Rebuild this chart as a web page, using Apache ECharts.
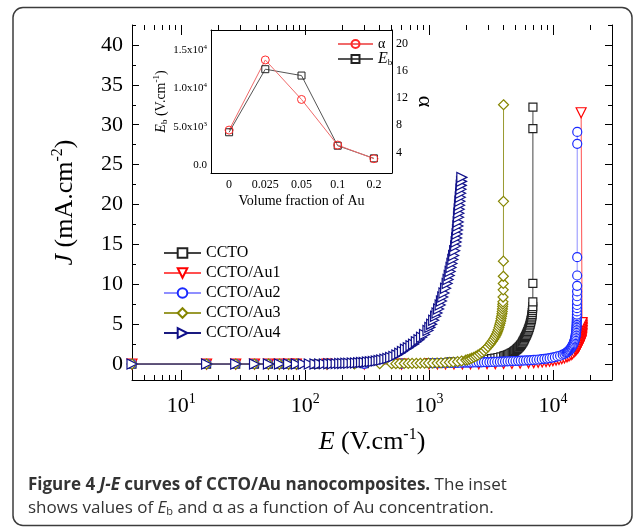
<!DOCTYPE html>
<html>
<head>
<meta charset="utf-8">
<script src="https://cdn.jsdelivr.net/npm/echarts@6/dist/echarts.min.js"></script>
<style>
html, body { margin: 0; padding: 0; background: #fff; }
#main { width: 633px; height: 528px; }
</style>
</head>
<body>
<div id="main"></div>
<script>
// J-E curves, [E (V/cm), J (mA/cm2)]
var ccto = [[4,0],[16,0],[27.5,0],[39,0],[50.5,0],[62,0],[73.5,0],[85,0],[120,0],[300,0.04],[600,0.09],[1000,0.16],[1500,0.26],
  [2000,0.35],[2200,0.4],[2400,0.45],[2600,0.5],[2800,0.55],[3000,0.6],[3200,0.67],[3400,0.74],[3600,0.82],[3800,0.9],[4000,1.0],
  [4100,1.05],[4200,1.1],[4300,1.16],[4400,1.22],[4500,1.29],[4600,1.36],[4700,1.44],[4800,1.52],[4880,1.6],[4950,1.68],[5030,1.76],
  [5100,1.85],[5180,1.94],[5250,2.03],[5330,2.12],[5400,2.22],[5480,2.33],[5550,2.45],[5620,2.6],[5700,2.75],[5760,2.87],[5820,3.0],
  [5890,3.15],[5950,3.3],[6010,3.45],[6070,3.6],[6130,3.75],[6200,3.9],[6260,4.07],[6320,4.25],[6380,4.42],[6440,4.6],[6500,4.8],
  [6550,5.0],[6600,5.2],[6650,5.4],[6690,5.6],[6730,5.8],[6760,6.0],[6790,6.2],[6815,6.45],[6840,6.7],[6855,6.95],[6870,7.2],
  [6885,7.8],[6890,10.1],[6895,29.5],[6900,32.2]];
var au1 = [[4,0],[16,0],[27.5,0],[39,0],[50.5,0],[62,0],[73.5,0],[85,0],[150,0],[300,0],[600,0],[1000,0.01],[1170,0.01],[1360,0.015],
  [1590,0.02],[1860,0.02],[2160,0.03],[2520,0.03],[2940,0.04],[3430,0.05],[4000,0.07],[4670,0.08],[5440,0.11],[6350,0.15],[7000,0.18],
  [7600,0.22],[8200,0.26],[8800,0.31],[9400,0.36],[10000,0.43],[10600,0.5],[11200,0.58],[11800,0.67],[12400,0.77],[13000,0.9],
  [13500,1.02],[14000,1.16],[14400,1.3],[14800,1.48],[15200,1.68],[15400,1.79],[15600,1.9],[15800,2.0],[16000,2.1],[16150,2.22],
  [16300,2.35],[16450,2.5],[16600,2.65],[16750,2.8],[16900,2.95],[16980,3.12],[17050,3.3],[17100,3.47],[17150,3.65],[17180,3.82],
  [17200,4.0],[17230,4.2],[17250,4.4],[17250,4.6],[17250,4.8],[17230,5.0],[17200,5.2],[16900,31.5]];
var au2 = [[4,0],[16,0],[27.5,0],[39,0],[50.5,0],[62,0],[73.5,0],[85,0],[150,0.01],[300,0.03],[600,0.06],[1000,0.1],[1050,0.105],
  [1100,0.11],[1160,0.115],[1220,0.12],[1280,0.125],[1340,0.13],[1410,0.135],[1480,0.14],[1550,0.145],[1630,0.15],[1710,0.155],
  [1800,0.16],[1890,0.17],[1980,0.18],[2080,0.185],[2180,0.19],[2290,0.2],[2400,0.205],[2520,0.21],[2650,0.22],[2780,0.23],
  [2920,0.24],[3070,0.25],[3220,0.26],[3380,0.27],[3550,0.29],[3730,0.3],[3910,0.31],[4110,0.33],[4310,0.34],[4530,0.35],
  [4750,0.37],[4990,0.38],[5240,0.4],[5500,0.42],[5780,0.43],[6070,0.45],[6370,0.47],[6690,0.49],[7020,0.52],[7370,0.54],
  [7740,0.57],[8130,0.61],[8540,0.65],[8960,0.69],[9410,0.74],[9880,0.8],[10370,0.86],[10890,0.95],[11430,1.04],[12000,1.17],
  [12400,1.28],[12800,1.4],[13000,1.47],[13200,1.55],[13400,1.65],[13600,1.75],[13800,1.87],[14000,2.0],[14150,2.12],[14300,2.25],
  [14450,2.37],[14600,2.5],[14730,2.65],[14850,2.8],[14950,2.95],[15050,3.1],[15130,3.27],[15200,3.45],[15270,3.62],[15330,3.8],
  [15380,4.0],[15430,4.2],[15470,4.4],[15500,4.6],[15530,4.8],[15550,5.0],[15570,5.2],[15590,5.4],[15605,5.6],[15615,5.8],
  [15625,6.0],[15630,6.2],[15640,6.6],[15650,7.0],[15655,7.4],[15660,7.9],[15670,8.5],[15680,9.1],[15690,9.8],[15700,11.1],
  [15710,13.4],[15720,27.6],[15730,29.1]];
var au3 = [[4,0],[16,0],[27.5,0],[39,0],[50.5,0],[62,0],[73.5,0],[85,0],[150,0.01],[250,0.02],[400,0.04],[500,0.05],[540,0.05],
  [580,0.06],[630,0.07],[680,0.08],[730,0.08],[790,0.09],[850,0.1],[920,0.1],[990,0.11],[1070,0.12],[1160,0.13],[1250,0.15],
  [1350,0.17],[1460,0.2],[1570,0.25],[1700,0.3],[1830,0.38],[1980,0.5],[2050,0.56],[2130,0.63],[2210,0.73],[2300,0.85],[2390,0.98],
  [2480,1.12],[2580,1.29],[2680,1.47],[2780,1.68],[2890,1.93],[2990,2.18],[3100,2.45],[3170,2.67],[3250,2.9],[3320,3.12],[3400,3.35],
  [3460,3.57],[3520,3.8],[3570,4.05],[3620,4.3],[3670,4.57],[3710,4.85],[3750,5.12],[3790,5.4],[3820,5.7],[3850,6.0],[3880,6.3],
  [3900,6.6],[3915,6.9],[3930,7.2],[3940,7.5],[3950,7.8],[3960,8.4],[3970,9.3],[3975,10.1],[3980,11.0],[3985,12.9],[3990,20.4],
  [3995,32.5]];
var au4 = [[4,0],[16,0],[27.5,0],[39,0],[50.5,0],[62,0],[73.5,0],[85,0],[96.5,0],[108,0],[120,0.01],[131,0.01],[143,0.02],[155,0.03],
  [166,0.04],[178,0.05],[190,0.07],[201,0.08],[213,0.09],[225,0.1],[240,0.12],[255,0.14],[270,0.16],[285,0.19],[300,0.21],[318,0.25],
  [336,0.29],[355,0.33],[375,0.39],[395,0.45],[415,0.51],[440,0.6],[465,0.7],[490,0.81],[520,0.95],[550,1.15],[580,1.35],[610,1.58],
  [645,1.85],[680,2.05],[715,2.3],[750,2.5],[790,2.8],[830,3.05],[870,3.35],[920,3.7],[980,4.2],[1015,4.6],[1050,5.0],[1090,5.5],
  [1130,6.0],[1160,6.4],[1195,6.9],[1230,7.4],[1260,7.9],[1290,8.4],[1320,8.9],[1360,9.5],[1400,10.1],[1425,10.6],[1455,11.1],
  [1480,11.6],[1505,12.1],[1530,12.6],[1555,13.1],[1580,13.6],[1610,14.2],[1640,14.8],[1655,15.3],[1670,15.8],[1685,16.3],
  [1697,16.8],[1710,17.3],[1720,17.8],[1730,18.4],[1740,18.9],[1752,19.4],[1763,19.9],[1775,20.4],[1787,20.9],[1798,21.4],
  [1810,21.9],[1820,22.4],[1830,22.9],[1840,23.4]];

// inset: Eb and alpha against Au volume fraction
var insetCats = ['0', '0.025', '0.05', '0.1', '0.2'];
var ebVals = [4270, 12490, 11660, 2520, 870];
var alphaVals = [7.3, 17.6, 11.8, 5.1, 3.1];

// tick values
var xMajor = [10, 100, 1000, 10000];
var xMajorExp = ['1', '2', '3', '4'];
var xMinor = [5, 6, 7, 8, 9, 20, 30, 40, 50, 60, 70, 80, 90, 200, 300, 400, 500, 600, 700, 800, 900,
  2000, 3000, 4000, 5000, 6000, 7000, 8000, 9000, 20000];
var yMajor = [0, 5, 10, 15, 20, 25, 30, 35, 40];
var yMinor = [2.5, 7.5, 12.5, 17.5, 22.5, 27.5, 32.5, 37.5, 42.5];
var ebMajor = [0, 5000, 10000, 15000];
var ebMajorText = ['0.0', '5.0x10{sup|3}', '1.0x10{sup|4}', '1.5x10{sup|4}'];
var ebMinor = [2500, 7500, 12500, 17500];
var alphaMajor = [4, 8, 12, 16, 20];
var alphaMinor = [2, 6, 10, 14, 18, 22];

var SERIF = 'Liberation Serif';
var chart = echarts.init(document.getElementById('main'));

function jeSeries(name, data, symbol, size, rotate, edge, line) {
  return {
    name: name, type: 'line', xAxisIndex: 0, yAxisIndex: 0, data: data,
    symbol: symbol, symbolSize: size, symbolRotate: rotate, showAllSymbol: true,
    lineStyle: { color: line, width: 1 },
    itemStyle: { color: '#fff', borderColor: edge, borderWidth: 1.2 },
    emphasis: { disabled: true }
  };
}

function logAxis(pos, ticks, len, labels) {
  return {
    gridIndex: 0, type: 'log', logBase: 10, min: 4, max: 30000, position: pos,
    axisLine: { show: labels, onZero: false, lineStyle: { color: '#000', width: 1 } },
    axisTick: { inside: true, length: len, customValues: ticks, lineStyle: { color: '#000' } },
    axisLabel: labels ? {
      customValues: xMajor, margin: 12, color: '#000', fontFamily: SERIF, fontSize: 22,
      formatter: function (v) {
        for (var i = 0; i < xMajor.length; i++) {
          if (Math.abs(v - xMajor[i]) < 1e-6 * xMajor[i]) return '10{sup|' + xMajorExp[i] + '}';
        }
        return '';
      },
      rich: { sup: { fontSize: 14, fontFamily: SERIF, color: '#000', verticalAlign: 'top', padding: [0, 0, 14, 0] } }
    } : { show: false },
    splitLine: { show: false }
  };
}

function valAxis(grid, pos, min, max, ticks, len, labels) {
  return {
    gridIndex: grid, type: 'value', min: min, max: max, position: pos,
    axisLine: { show: labels !== null, onZero: false, lineStyle: { color: '#000', width: 1 } },
    axisTick: { inside: true, length: len, customValues: ticks, lineStyle: { color: '#000' } },
    axisLabel: labels || { show: false },
    splitLine: { show: false }
  };
}

function catAxis(pos, align, len, labels) {
  return {
    gridIndex: 1, type: 'category', data: insetCats, boundaryGap: true, position: pos,
    axisLine: { show: labels !== null, onZero: false, lineStyle: { color: '#000', width: 1 } },
    axisTick: { inside: true, length: len, alignWithLabel: align, interval: 0, lineStyle: { color: '#000' } },
    axisLabel: labels || { show: false },
    splitLine: { show: false }
  };
}

var mainX = logAxis('bottom', xMajor, 10, true);
mainX.name = '{i|E} (V.cm{sup|-1})';
mainX.nameLocation = 'middle';
mainX.nameGap = 47;
mainX.nameTextStyle = {
  fontFamily: SERIF, fontSize: 26, color: '#000',
  rich: {
    i: { fontFamily: SERIF, fontSize: 26, fontStyle: 'italic', color: '#000' },
    sup: { fontFamily: SERIF, fontSize: 16, color: '#000', verticalAlign: 'top', padding: [0, 0, 14, 0] }
  }
};

var mainY = valAxis(0, 'left', -2, 42.5, yMajor, 7, {
  customValues: yMajor, margin: 9, color: '#000', fontFamily: SERIF, fontSize: 22
});
mainY.name = '{i|J} (mA.cm{sup|-2})';
mainY.nameLocation = 'middle';
mainY.nameRotate = 90;
mainY.nameGap = 52;
mainY.nameTextStyle = {
  fontFamily: SERIF, fontSize: 26, color: '#000',
  rich: {
    i: { fontFamily: SERIF, fontSize: 26, fontStyle: 'italic', color: '#000' },
    sup: { fontFamily: SERIF, fontSize: 16, color: '#000', verticalAlign: 'top', padding: [0, 0, 14, 0] }
  }
};

var insetX = catAxis('bottom', true, 4, { margin: 6, color: '#000', fontFamily: SERIF, fontSize: 12 });
insetX.name = 'Volume fraction of Au';
insetX.nameLocation = 'middle';
insetX.nameGap = 21;
insetX.nameTextStyle = { fontFamily: SERIF, fontSize: 14, color: '#000' };

var ebAxis = valAxis(1, 'left', -1040, 17600, ebMajor, 4, {
  customValues: ebMajor, margin: 4, color: '#000', fontFamily: SERIF, fontSize: 11,
  formatter: function (v) { var i = ebMajor.indexOf(v); return i < 0 ? '' : ebMajorText[i]; },
  rich: { sup: { fontSize: 7, fontFamily: SERIF, color: '#000', verticalAlign: 'top', padding: [0, 0, 6, 0] } }
});
ebAxis.name = '{i|E}{sub|b} (V.cm{sup|-1})';
ebAxis.nameLocation = 'middle';
ebAxis.nameRotate = 90;
ebAxis.nameGap = 38;
ebAxis.nameTextStyle = {
  fontFamily: SERIF, fontSize: 14, color: '#000',
  rich: {
    i: { fontFamily: SERIF, fontSize: 14, fontStyle: 'italic', color: '#000' },
    sub: { fontFamily: SERIF, fontSize: 9, color: '#000', verticalAlign: 'bottom', padding: [8, 0, 0, 0] },
    sup: { fontFamily: SERIF, fontSize: 9, color: '#000', verticalAlign: 'top', padding: [0, 0, 8, 0] }
  }
};

var alphaAxis = valAxis(1, 'right', 1, 22, alphaMajor, 4, {
  customValues: alphaMajor, margin: 4, color: '#000', fontFamily: SERIF, fontSize: 12
});
alphaAxis.name = 'α';
alphaAxis.nameLocation = 'middle';
alphaAxis.nameRotate = -90;
alphaAxis.nameGap = 22;
alphaAxis.nameTextStyle = { fontFamily: SERIF, fontSize: 22, color: '#000' };

var option = {
  animation: false,
  backgroundColor: '#fff',
  textStyle: { fontFamily: SERIF },
  grid: [
    { left: 132, top: 25, width: 480, height: 355 },
    { left: 211, top: 30, width: 181, height: 143 }
  ],
  legend: [
    {
      orient: 'vertical', left: 158, top: 240, itemWidth: 37, itemHeight: 12, itemGap: 4,
      selectedMode: false, textStyle: { fontFamily: SERIF, fontSize: 16, color: '#000' },
      data: ['CCTO', 'CCTO/Au1', 'CCTO/Au2', 'CCTO/Au3', 'CCTO/Au4']
    },
    {
      orient: 'vertical', left: 332, top: 32, itemWidth: 35, itemHeight: 10, itemGap: 0,
      selectedMode: false,
      textStyle: {
        fontFamily: SERIF, fontSize: 14, color: '#000',
        rich: {
          i: { fontFamily: SERIF, fontSize: 16, fontStyle: 'italic', color: '#000' },
          sub: { fontFamily: SERIF, fontSize: 9, color: '#000', verticalAlign: 'bottom', padding: [8, 0, 0, 0] }
        }
      },
      formatter: function (n) { return n === 'Eb' ? '{i|E}{sub|b}' : n; },
      data: ['α', 'Eb']
    }
  ],
  xAxis: [
    mainX,
    logAxis('bottom', xMinor, 5, false),
    logAxis('top', xMajor, 10, false),
    logAxis('top', xMinor, 5, false),
    insetX,
    catAxis('bottom', false, 2.5, null),
    catAxis('top', true, 4, { show: false })
  ],
  yAxis: [
    mainY,
    valAxis(0, 'left', -2, 42.5, yMinor, 4, null),
    valAxis(0, 'right', -2, 42.5, yMajor, 7, { show: false }),
    valAxis(0, 'right', -2, 42.5, yMinor, 4, null),
    ebAxis,
    valAxis(1, 'left', -1040, 17600, ebMinor, 2.5, null),
    alphaAxis,
    valAxis(1, 'right', 1, 22, alphaMinor, 2.5, null)
  ],
  series: [
    jeSeries('CCTO', ccto, 'rect', 8, 0, '#222', '#444'),
    jeSeries('CCTO/Au1', au1, 'triangle', 10, 180, '#ff0000', '#ff5050'),
    jeSeries('CCTO/Au2', au2, 'circle', 9, 0, '#1a2aff', '#8f8fff'),
    jeSeries('CCTO/Au3', au3, 'diamond', 10, 0, '#858500', '#9a9a30'),
    jeSeries('CCTO/Au4', au4, 'triangle', 10, -90, '#10108a', '#1a1a80'),
    {
      name: 'Eb', type: 'line', xAxisIndex: 4, yAxisIndex: 4, data: ebVals,
      symbol: 'rect', symbolSize: 7, lineStyle: { color: '#555', width: 1 },
      itemStyle: { color: 'rgba(255,255,255,0)', borderColor: '#222', borderWidth: 1 },
      emphasis: { disabled: true }
    },
    {
      name: 'α', type: 'line', xAxisIndex: 4, yAxisIndex: 6, data: alphaVals,
      symbol: 'circle', symbolSize: 8, lineStyle: { color: '#f06a6a', width: 1 },
      itemStyle: { color: 'rgba(255,255,255,0)', borderColor: '#ff2a2a', borderWidth: 1 },
      emphasis: { disabled: true }
    }
  ],
  graphic: [
    {
      type: 'rect', silent: true, z: -10,
      shape: { x: 13, y: 7.5, width: 619, height: 518, r: 10 },
      style: { fill: 'none', stroke: '#3c3c3c', lineWidth: 1.5 }
    },
    {
      type: 'text', left: 28, top: 477, silent: true,
      style: {
        text: '{b|Figure 4 }{bi|J-E}{b| curves of CCTO/Au nanocomposites.}{n| The inset}',
        fill: '#333', fontFamily: 'Open Sans', fontSize: 17,
        rich: {
          b: { fontFamily: 'Open Sans', fontSize: 17, fontWeight: 'bold', fill: '#333' },
          bi: { fontFamily: 'Open Sans', fontSize: 17, fontWeight: 'bold', fontStyle: 'italic', fill: '#333' },
          n: { fontFamily: 'Open Sans', fontSize: 17, fill: '#333' }
        }
      }
    },
    {
      type: 'text', left: 28, top: 500, silent: true,
      style: {
        text: '{n|shows values of }{i|E}{sub|b}{n| and α as a function of Au concentration.}',
        fill: '#333', fontFamily: 'Open Sans', fontSize: 17,
        rich: {
          n: { fontFamily: 'Open Sans', fontSize: 17, fill: '#333' },
          i: { fontFamily: 'Open Sans', fontSize: 17, fontStyle: 'italic', fill: '#333' },
          sub: { fontFamily: 'Open Sans', fontSize: 11, fill: '#333', verticalAlign: 'bottom', padding: [7, 0, 0, 0] }
        }
      }
    }
  ]
};

chart.setOption(option);
window.addEventListener('resize', function () { chart.resize(); });
</script>
</body>
</html>
